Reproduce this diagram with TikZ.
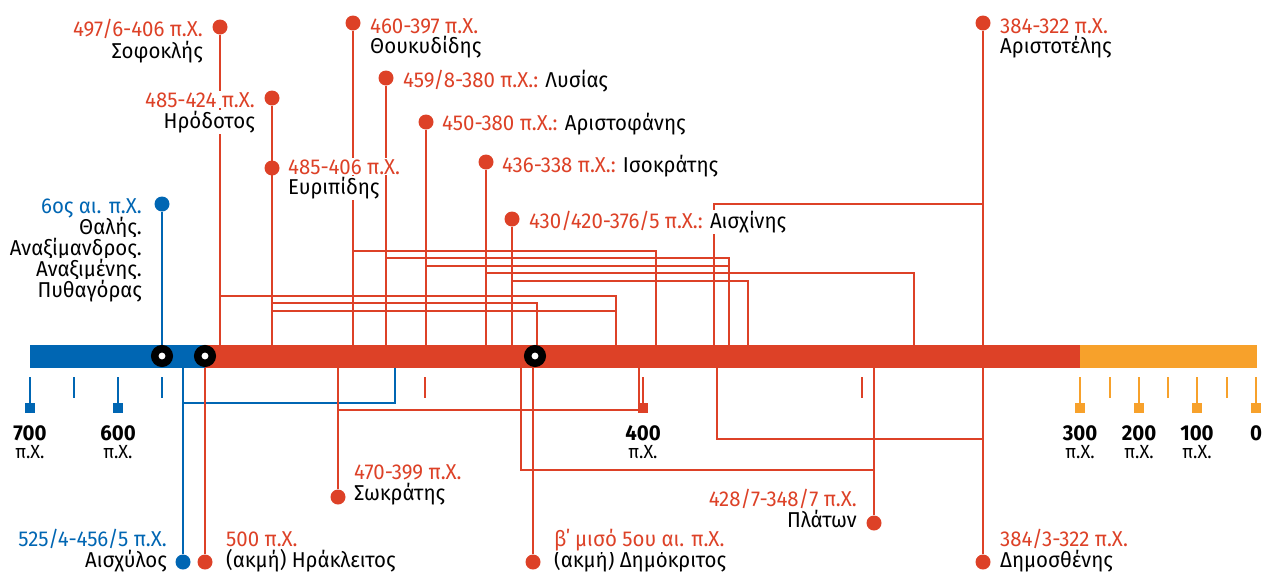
\documentclass[tikz,border=0pt]{standalone}
\usepackage{fontspec}
\setmainfont[FakeStretch=0.95]{Fira Sans}
\usepackage{tikz}
\usetikzlibrary{positioning,calc}
\definecolor{tlred}{HTML}{DD4127}
\definecolor{tlblue}{HTML}{0066B3}
\definecolor{tlorange}{HTML}{F7A12B}
\newcommand{\lblsize}{\fontsize{21.5}{23}\selectfont}
\newcommand{\axsize}{\fontsize{19}{21}\selectfont}
\tikzset{
  dotr/.style={circle, fill=tlred, inner sep=0pt, minimum size=15pt},
  dotb/.style={dotr, fill=tlblue},
  ring/.style={circle, draw=black, fill=white, line width=7.5pt,
               inner sep=0pt, minimum size=14.5pt},
  stem/.style={draw=tlred, line width=2.6pt},
  stemb/.style={stem, draw=tlblue},
  span/.style={draw=tlred, line width=2.2pt},
  spanb/.style={span, draw=tlblue},
  yr/.style={text=tlred, fill=white, inner sep=1pt, font=\lblsize},
  yrb/.style={yr, text=tlblue},
  who/.style={yr, text=black},
  tk/.style={line width=2.6pt},
  axyr/.style={anchor=base, inner sep=0pt, font=\lblsize\bfseries},
  axbc/.style={anchor=base, inner sep=0pt, font=\axsize},
}

\begin{document}
\begin{tikzpicture}[x=1pt, y=-1pt]
  \useasboundingbox (0,0) rectangle (1262,571);
  % bar edges
  \coordinate (bt) at (0,345);
  \coordinate (bb) at (0,368);

  % dots above the bar
  \node[dotr] (sof) at (220,27) {};
  \node[dotr] (her) at (272,98) {};
  \node[dotr] (eur) at (272,168) {};
  \node[dotr] (thu) at (353,23) {};
  \node[dotr] (lys) at (386,78) {};
  \node[dotr] (arf) at (426,122) {};
  \node[dotr] (iso) at (486,162) {};
  \node[dotr] (aes) at (512,219) {};
  \node[dotr] (ars) at (983,23) {};
  \node[dotb] (tha) at (162,204) {};
  % dots below the bar
  \node[dotb] (esx) at (183,562) {};
  \node[dotr] (hrk) at (205,562) {};
  \node[dotr] (sok) at (338,497) {};
  \node[dotr] (dmk) at (533,562) {};
  \node[dotr] (pla) at (874,523) {};
  \node[dotr] (dem) at (983,562) {};

  % ends of the life spans
  \coordinate (sofE) at (616,296);
  \coordinate (herE) at (537,303);
  \coordinate (eurE) at (616,311);
  \coordinate (thuE) at (656,251);
  \coordinate (lysE) at (729,258);
  \coordinate (arfE) at (729,266);
  \coordinate (isoE) at (914,273);
  \coordinate (aesE) at (748,281);
  \coordinate (arsS) at (714,204);
  \coordinate (esxE) at (395,403);
  \coordinate (sokE) at (639,410);
  \coordinate (plaS) at (521,470);
  \coordinate (demS) at (717,439);

  % spans above
  \draw[stem] (sof) -- (sof |- bt);
  \draw[span] (sof |- sofE) -- (sofE) -- (sofE |- bt);
  \draw[stem] (her) -- (her |- bt);
  \draw[span] (her |- herE) -- (herE) -- (herE |- bt);
  \draw[span] (eur |- eurE) -- (eurE) -- (eurE |- bt);
  \draw[stem] (thu) -- (thu |- bt);
  \draw[span] (thu |- thuE) -- (thuE) -- (thuE |- bt);
  \draw[stem] (lys) -- (lys |- bt);
  \draw[span] (lys |- lysE) -- (lysE) -- (lysE |- bt);
  \draw[stem] (arf) -- (arf |- bt);
  \draw[span] (arf |- arfE) -- (arfE) -- (arfE |- bt);
  \draw[stem] (iso) -- (iso |- bt);
  \draw[span] (iso |- isoE) -- (isoE) -- (isoE |- bt);
  \draw[stem] (aes) -- (aes |- bt);
  \draw[span] (aes |- aesE) -- (aesE) -- (aesE |- bt);
  \draw[stem] (ars) -- (ars |- bt);
  \draw[span] (arsS |- bt) -- (arsS) -- (arsS -| ars);
  \draw[stemb] (tha) -- (tha |- bt);

  % spans below
  \draw[stemb] (esx) -- (esx |- bb);
  \draw[spanb] (esx |- esxE) -- (esxE) -- (esxE |- bb);
  \draw[stem] (hrk) -- (hrk |- bb);
  \draw[stem] (sok) -- (sok |- bb);
  \draw[span] (sok |- sokE) -- (sokE) -- (sokE |- bb);
  \draw[stem] (dmk) -- (dmk |- bb);
  \draw[stem] (pla) -- (pla |- bb);
  \draw[span] (plaS |- bb) -- (plaS) -- (plaS -| pla);
  \draw[stem] (dem) -- (dem |- bb);
  \draw[span] (demS |- bb) -- (demS) -- (demS -| dem);

  % the bar
  \fill[tlblue] (30,345) rectangle (205,368);
  \fill[tlred] (205,345) rectangle (1080,368);
  \fill[tlorange] (1080,345) rectangle (1257,368);
  \node[ring] (r1) at (162,356) {};
  \node[ring] (r2) at (205,356) {};
  \node[ring] (r3) at (535,356) {};

  % scale
  \foreach \x/\c in {74/tlblue,162/tlblue,425/tlred,862/tlred,1110/tlorange,1168/tlorange,1227/tlorange}
    \draw[tk, \c] (\x,377) -- (\x,398);
  \foreach \x/\c in {30/tlblue,118/tlblue,643/tlred,1080/tlorange,1139/tlorange,1197/tlorange,1256/tlorange}{
    \draw[tk, \c] (\x,377) -- (\x,404);
    \fill[\c] (\x-5,403) rectangle (\x+5,413);
  }
  \foreach \x/\y in {30/700,118/600,643/400,1080/300,1139/200,1197/100}{
    \node[axyr] (ax\y) at (\x,440) {\y};
    \node[axbc] (bc\y) at (\x,458) {π.Χ.};
  }
  \node[axyr] (ax0) at (1256,440) {0};

  % labels above
  \node[yr, anchor=base east] (sofD) at ($(sof)+(-16,9)$) {497/6-406 π.Χ.};
  \node[who, anchor=base east] (sofN) at ($(sofD.base east)+(0,22)$) {Σοφοκλής};
  \node[yr, anchor=base east] (herD) at ($(her)+(-16,9)$) {485-424 π.Χ.};
  \node[who, anchor=base east] (herN) at ($(herD.base east)+(0,21)$) {Ηρόδοτος};
  \node[yr, anchor=base west] (eurD) at ($(eur)+(15,6)$) {485-406 π.Χ.};
  \node[who, anchor=base west] (eurN) at ($(eurD.base west)+(0,20)$) {Ευριπίδης};
  \node[yr, anchor=base west] (thuD) at ($(thu)+(16,10)$) {460-397 π.Χ.};
  \node[who, anchor=base west] (thuN) at ($(thuD.base west)+(0,20)$) {Θουκυδίδης};
  \node[yr, anchor=base west] (lysD) at ($(lys)+(16,9)$) {459/8-380 π.Χ.: \textcolor{black}{Λυσίας}};
  \node[yr, anchor=base west] (arfD) at ($(arf)+(15,8)$) {450-380 π.Χ.: \textcolor{black}{Αριστοφάνης}};
  \node[yr, anchor=base west] (isoD) at ($(iso)+(15,10)$) {436-338 π.Χ.: \textcolor{black}{Ισοκράτης}};
  \node[yr, anchor=base west] (aesD) at ($(aes)+(16,9)$) {430/420-376/5 π.Χ.: \textcolor{black}{Αισχίνης}};
  \node[yr, anchor=base west] (arsD) at ($(ars)+(16,10)$) {384-322 π.Χ.};
  \node[who, anchor=base west] (arsN) at ($(arsD.base west)+(0,20)$) {Αριστοτέλης};
  \node[yrb, anchor=base east] (thaD) at ($(tha)+(-19,9)$) {6ος αι. π.Χ.};
  \node[who, anchor=base east] (thaN1) at ($(thaD.base east)+(0,21)$) {Θαλής.};
  \node[who, anchor=base east] (thaN2) at ($(thaN1.base east)+(0,21)$) {Αναξίμανδρος.};
  \node[who, anchor=base east] (thaN3) at ($(thaN2.base east)+(0,21)$) {Αναξιμένης.};
  \node[who, anchor=base east] (thaN4) at ($(thaN3.base east)+(0,21)$) {Πυθαγόρας};

  % labels below
  \node[who, anchor=base east] (esxN) at ($(esx)+(-15,5)$) {Αισχύλος};
  \node[yrb, anchor=base east] (esxD) at ($(esxN.base east)+(0,-21)$) {525/4-456/5 π.Χ.};
  \node[who, anchor=base west] (hrkN) at ($(hrk)+(20,5)$) {(ακμή) Ηράκλειτος};
  \node[yr, anchor=base west] (hrkD) at ($(hrkN.base west)+(0,-21)$) {500 π.Χ.};
  \node[who, anchor=base west] (sokN) at ($(sok)+(15,3)$) {Σωκράτης};
  \node[yr, anchor=base west] (sokD) at ($(sokN.base west)+(0,-21)$) {470-399 π.Χ.};
  \node[who, anchor=base west] (dmkN) at ($(dmk)+(20,5)$) {(ακμή) Δημόκριτος};
  \node[yr, anchor=base west] (dmkD) at ($(dmkN.base west)+(0,-21)$) {β΄ μισό 5ου αι. π.Χ.};
  \node[who, anchor=base east] (plaN) at ($(pla)+(-16,4)$) {Πλάτων};
  \node[yr, anchor=base east] (plaD) at ($(plaN.base east)+(0,-21)$) {428/7-348/7 π.Χ.};
  \node[who, anchor=base west] (demN) at ($(dem)+(16,5)$) {Δημοσθένης};
  \node[yr, anchor=base west] (demD) at ($(demN.base west)+(0,-21)$) {384/3-322 π.Χ.};
\end{tikzpicture}
\end{document}
